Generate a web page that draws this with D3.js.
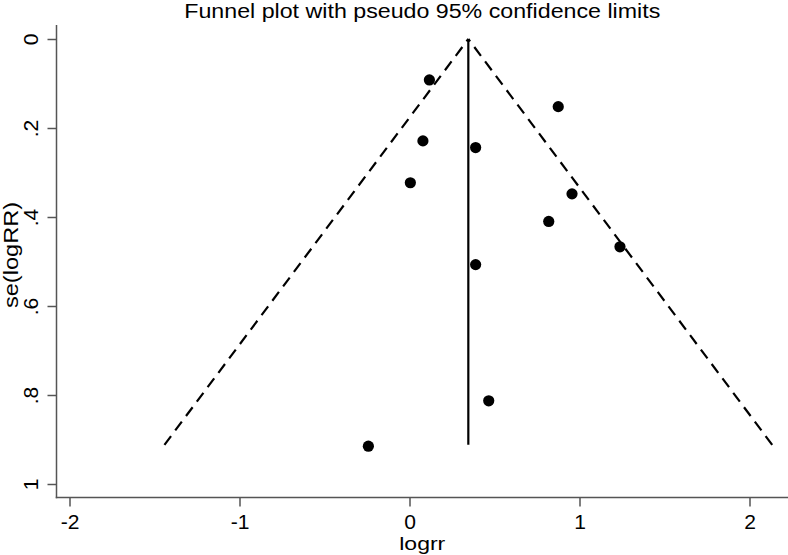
<!DOCTYPE html>
<html><head><meta charset="utf-8">
<script src="https://cdn.jsdelivr.net/npm/d3@7"></script>
<style>body{margin:0;background:#fff}svg{display:block}text{font-family:"Liberation Sans",Arial,sans-serif;fill:#000}</style>
</head><body><svg id="c" width="788" height="555"></svg>
<script>
const title = "Funnel plot with pseudo 95% confidence limits";
const xLabel = "logrr";
const yLabel = "se(logRR)";
const logrr = [0.117, 0.875, 0.079, 0.389, 0.005, 0.956, 0.819, 1.238, 0.389, 0.466, -0.242];
const seLogrr = [0.092, 0.152, 0.229, 0.244, 0.323, 0.348, 0.410, 0.467, 0.507, 0.813, 0.915];
const pooled = 0.346;
const maxSe = 0.912;
const xTicks = [-2, -1, 0, 1, 2];
const xTickLabels = ["-2", "-1", "0", "1", "2"];
const yTicks = [0, 0.2, 0.4, 0.6, 0.8, 1];
const yTickLabels = ["0", ".2", ".4", ".6", ".8", "1"];

const svg = d3.select("#c");
const region = {left: 56.5, right: 788, top: 25, bottom: 497.5};
const x = d3.scaleLinear().domain([-2, 2]).range([69.5, 749.5]);
const y = d3.scaleLinear().domain([0, 1]).range([39, 484]);
const axisColor = "#555";
const font = '"Liberation Sans",Arial,sans-serif';

// title
svg.append("text").attr("x", (region.left + region.right) / 2).attr("y", 17.5)
  .attr("text-anchor", "middle").attr("font-size", 19.5)
  .attr("textLength", 476).attr("lengthAdjust", "spacingAndGlyphs").text(title);

// axes lines
svg.append("line").attr("x1", region.left).attr("x2", region.left).attr("y1", region.top).attr("y2", region.bottom + 0.75)
  .attr("stroke", axisColor).attr("stroke-width", 1.5);
svg.append("line").attr("x1", region.left - 0.75).attr("x2", region.right).attr("y1", region.bottom).attr("y2", region.bottom)
  .attr("stroke", axisColor).attr("stroke-width", 1.5);

// y axis
const yAxis = d3.axisLeft(y).tickValues(yTicks).tickSize(9).tickPadding(10)
  .tickFormat((d, i) => yTickLabels[i]);
const gy = svg.append("g").attr("transform", `translate(${region.left},0)`).call(yAxis);
gy.select(".domain").remove();
gy.selectAll(".tick line").attr("stroke", axisColor).attr("stroke-width", 1.5);
gy.selectAll(".tick text").attr("font-size", 19.5).attr("fill", "#000")
  .attr("font-family", font)
  .attr("text-anchor", "middle").attr("dy", 0)
  .attr("transform", "translate(-19,0) rotate(-90) scale(1.08,1)").attr("x", 0);

// x axis
const xAxis = d3.axisBottom(x).tickValues(xTicks).tickSize(9).tickPadding(8.5)
  .tickFormat((d, i) => xTickLabels[i]);
const gx = svg.append("g").attr("transform", `translate(0,${region.bottom})`).call(xAxis);
gx.select(".domain").remove();
gx.selectAll(".tick line").attr("stroke", axisColor).attr("stroke-width", 1.5);
gx.selectAll(".tick text").attr("font-size", 19.5).attr("fill", "#000")
  .attr("font-family", font).attr("transform", "scale(1.08,1)");

// axis titles
svg.append("text").attr("x", (region.left + region.right) / 2).attr("y", 549.5)
  .attr("text-anchor", "middle").attr("font-size", 18.5)
  .attr("textLength", 46).attr("lengthAdjust", "spacingAndGlyphs").text(xLabel);
svg.append("text").attr("transform", `translate(17.5,255) rotate(-90)`)
  .attr("text-anchor", "middle").attr("font-size", 19.5)
  .attr("textLength", 106).attr("lengthAdjust", "spacingAndGlyphs").text(yLabel);

// funnel limits and pooled estimate
const line = d3.line().x(d => x(d[0])).y(d => y(d[1]));
svg.append("path").attr("d", line([[pooled - 1.96 * maxSe, maxSe], [pooled, 0]]))
  .attr("fill", "none").attr("stroke", "#000").attr("stroke-width", 2.2).attr("stroke-dasharray", "11,7");
svg.append("path").attr("d", line([[pooled + 1.96 * maxSe, maxSe], [pooled, 0]]))
  .attr("fill", "none").attr("stroke", "#000").attr("stroke-width", 2.2).attr("stroke-dasharray", "11,7");
svg.append("path").attr("d", line([[pooled, 0], [pooled, maxSe]]))
  .attr("fill", "none").attr("stroke", "#000").attr("stroke-width", 2.2);

// points
svg.append("g").selectAll("circle").data(logrr.map((v, i) => [v, seLogrr[i]])).join("circle")
  .attr("cx", d => x(d[0])).attr("cy", d => y(d[1])).attr("r", 5.6).attr("fill", "#000");
</script></body></html>
